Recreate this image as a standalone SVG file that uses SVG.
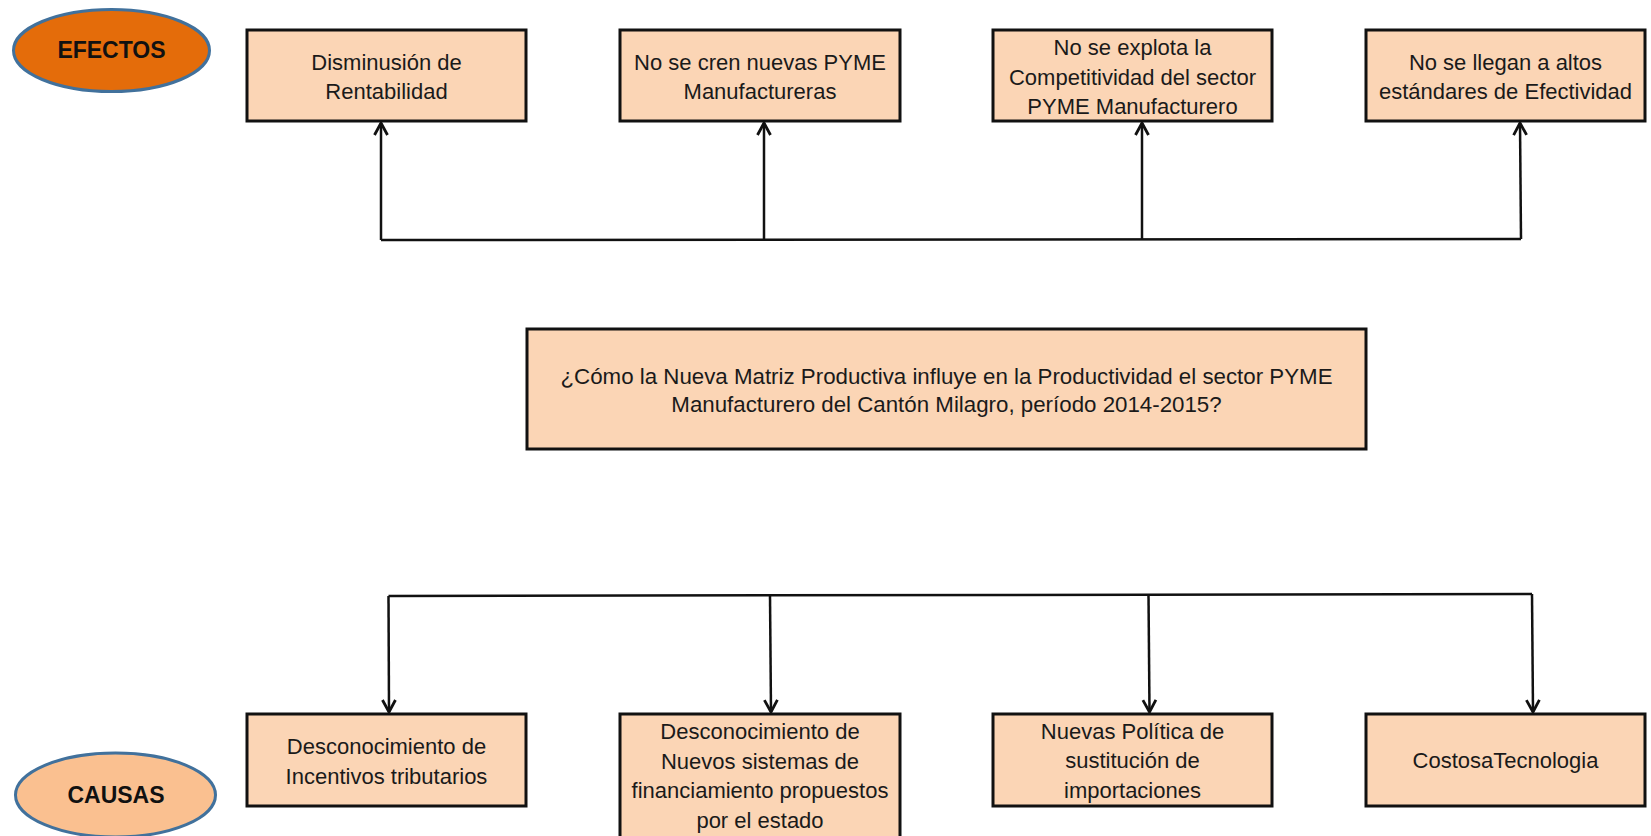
<svg xmlns="http://www.w3.org/2000/svg" width="1651" height="836" viewBox="0 0 1651 836">
<style>
.box{fill:#FBD5B5;stroke:#111;stroke-width:3}
.t{font-family:"Liberation Sans",Arial,sans-serif;font-size:22px;fill:#1a1a1a;text-anchor:middle;dominant-baseline:central}
.lbl{font-family:"Liberation Sans",Arial,sans-serif;font-size:23px;font-weight:bold;fill:#111;text-anchor:middle;dominant-baseline:central}
.c{stroke:#111;stroke-width:2.5;fill:none}
</style>
<defs>
<marker id="arr" markerUnits="userSpaceOnUse" markerWidth="18" markerHeight="18" refX="13" refY="8" orient="auto" viewBox="0 0 18 16">
<path d="M1,1.5 L13,8 L1,14.5" fill="none" stroke="#111" stroke-width="2.8"/>
</marker>
</defs>
<rect width="1651" height="836" fill="#fff"/>
<g id="efectos">
<ellipse cx="111.5" cy="50.5" rx="98" ry="41" fill="#E46C0A" stroke="#41719C" stroke-width="3"/>
<text class="lbl" x="111.5" y="50">EFECTOS</text>
</g>
<g id="causas">
<ellipse cx="115.5" cy="795" rx="100" ry="42" fill="#FAC090" stroke="#41719C" stroke-width="3"/>
<text class="lbl" x="116" y="795">CAUSAS</text>
</g>
<g id="e1"><rect class="box" x="247" y="30" width="279" height="91"/>
<text class="t" x="386.5" y="62">Disminusión de</text><text class="t" x="386.5" y="91.5">Rentabilidad</text></g>
<g id="e2"><rect class="box" x="620" y="30" width="280" height="91"/>
<text class="t" x="760" y="62">No se cren nuevas PYME</text><text class="t" x="760" y="91.5">Manufactureras</text></g>
<g id="e3"><rect class="box" x="993" y="30" width="279" height="91"/>
<text class="t" x="1132.5" y="47">No se explota la</text><text class="t" x="1132.5" y="77">Competitividad del sector</text><text class="t" x="1132.5" y="106">PYME Manufacturero</text></g>
<g id="e4"><rect class="box" x="1366" y="30" width="279" height="91"/>
<text class="t" x="1505.5" y="62">No se llegan a altos</text><text class="t" x="1505.5" y="91.5">estándares de Efectividad</text></g>
<g id="problema"><rect class="box" x="527" y="329" width="839" height="120"/>
<text class="t" x="946.5" y="376" style="font-size:22.3px">¿Cómo la Nueva Matriz Productiva influye en la Productividad el sector PYME</text>
<text class="t" x="946.5" y="404" style="font-size:22.3px">Manufacturero del Cantón Milagro, período 2014-2015?</text></g>
<g id="c1"><rect class="box" x="247" y="714" width="279" height="92"/>
<text class="t" x="386.5" y="746.5">Desconocimiento de</text><text class="t" x="386.5" y="776">Incentivos tributarios</text></g>
<g id="c2"><rect class="box" x="620" y="714" width="280" height="140"/>
<text class="t" x="760" y="731">Desconocimiento de</text><text class="t" x="760" y="761">Nuevos sistemas de</text><text class="t" x="760" y="790.5">financiamiento propuestos</text><text class="t" x="760" y="820">por el estado</text></g>
<g id="c3"><rect class="box" x="993" y="714" width="279" height="92"/>
<text class="t" x="1132.5" y="731">Nuevas Política de</text><text class="t" x="1132.5" y="760.5">sustitución de</text><text class="t" x="1132.5" y="790">importaciones</text></g>
<g id="c4"><rect class="box" x="1366" y="714" width="279" height="92"/>
<text class="t" x="1505.5" y="760">CostosaTecnologia</text></g>
<g id="connectors">
<path class="c" d="M381,240 L1521,239"/>
<path class="c" d="M381,240 L381,123" marker-end="url(#arr)"/>
<path class="c" d="M764,239.5 L764,123" marker-end="url(#arr)"/>
<path class="c" d="M1142,239 L1142,123" marker-end="url(#arr)"/>
<path class="c" d="M1521,239 L1520,123" marker-end="url(#arr)"/>
<path class="c" d="M388.5,596 L1532,594"/>
<path class="c" d="M388.5,596 L389,712" marker-end="url(#arr)"/>
<path class="c" d="M770,595.5 L771,712" marker-end="url(#arr)"/>
<path class="c" d="M1148.5,595 L1149.5,712" marker-end="url(#arr)"/>
<path class="c" d="M1532,594 L1533,712" marker-end="url(#arr)"/>
</g>
</svg>
